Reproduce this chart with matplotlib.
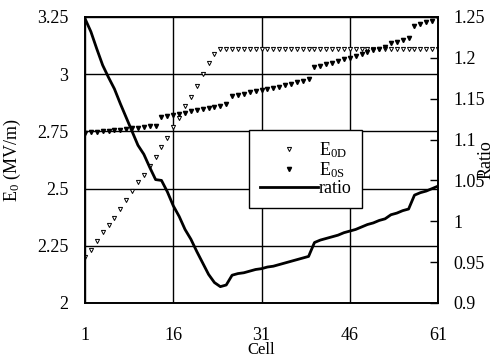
import matplotlib

matplotlib.use("Agg")
from matplotlib import pyplot as plt

plt.rcParams["font.family"] = ["Liberation Serif", "DejaVu Serif"]
plt.rcParams["mathtext.fontset"] = "custom"
plt.rcParams["mathtext.rm"] = "Liberation Serif"
plt.rcParams["mathtext.it"] = "Liberation Serif"

CELLS = list(range(1, 62))

E0D = [2.20, 2.23, 2.27, 2.31, 2.34, 2.37, 2.41, 2.45, 2.49, 2.53,
       2.56, 2.60, 2.64, 2.68, 2.72, 2.77, 2.81, 2.86, 2.90, 2.95,
       3.00, 3.05, 3.09] + [3.11] * 38

E0S = [2.745, 2.747, 2.749, 2.751, 2.753, 2.755, 2.757, 2.760, 2.763, 2.766,
       2.769, 2.772, 2.775, 2.815, 2.818, 2.822, 2.827, 2.832, 2.837, 2.842,
       2.847, 2.852, 2.857, 2.862, 2.868, 2.905, 2.910, 2.915, 2.920, 2.925,
       2.930, 2.935, 2.940, 2.946, 2.952, 2.958, 2.964, 2.970, 2.977, 3.030,
       3.037, 3.044, 3.051, 3.058, 3.065, 3.072, 3.080, 3.088, 3.096, 3.104,
       3.112, 3.120, 3.135, 3.142, 3.150, 3.156, 3.210, 3.218, 3.226, 3.234,
       3.245]

RATIO = [1.248, 1.232, 1.211, 1.191, 1.176, 1.162, 1.144, 1.127, 1.110, 1.093,
         1.082, 1.066, 1.051, 1.050, 1.036, 1.019, 1.006, 0.990, 0.978, 0.963,
         0.949, 0.935, 0.925, 0.920, 0.922, 0.934, 0.936, 0.937, 0.939, 0.941,
         0.942, 0.944, 0.945, 0.947, 0.949, 0.951, 0.953, 0.955, 0.957, 0.974,
         0.977, 0.979, 0.981, 0.983, 0.986, 0.988, 0.990, 0.993, 0.996, 0.998,
         1.001, 1.003, 1.008, 1.010, 1.013, 1.015, 1.032, 1.035, 1.037, 1.040,
         1.043]

X_TICKS = [1, 16, 31, 46, 61]
LEFT_TICKS = [2, 2.25, 2.5, 2.75, 3, 3.25]
LEFT_LABELS = ["2", "2.25", "2.5", "2.75", "3", "3.25"]
RIGHT_TICKS = [0.9, 0.95, 1.0, 1.05, 1.1, 1.15, 1.2, 1.25]
RIGHT_LABELS = ["0.9", "0.95", "1", "1.05", "1.1", "1.15", "1.2", "1.25"]

fig = plt.figure(figsize=(4.96, 3.57), dpi=100)
ax = fig.add_axes([0.1714, 0.1513, 0.7117, 0.8011])
ax2 = ax.twinx()

h1, = ax.plot(CELLS, E0D, linestyle="none", marker="v", markersize=3,
              markerfacecolor="white", markeredgecolor="black", markeredgewidth=0.7,
              label=r"E$_{\mathrm{0D}}$")
h2, = ax.plot(CELLS, E0S, linestyle="none", marker="v", markersize=3,
              color="black", label=r"E$_{\mathrm{0S}}$")
h3, = ax2.plot(CELLS, RATIO, color="black", linewidth=2, label="ratio")

ax.set_xlim(1, 61)
ax.set_ylim(2, 3.25)
ax2.set_ylim(0.9, 1.25)
ax.set_xticks(X_TICKS)
ax.set_yticks(LEFT_TICKS)
ax.set_yticklabels(LEFT_LABELS)
ax2.set_yticks(RIGHT_TICKS)
ax2.set_yticklabels(RIGHT_LABELS)

ax.grid(True, color="black", linewidth=1)
ax.tick_params(axis="x", length=0, pad=17, labelsize=13)
ax.tick_params(axis="y", length=0, pad=12, labelsize=13)
ax2.tick_params(axis="y", direction="in", length=6, width=1, pad=11, labelsize=13)

for spine in list(ax.spines.values()) + list(ax2.spines.values()):
    spine.set_linewidth(1.2)

ax.set_xlabel("Cell", fontsize=12)
ax.xaxis.set_label_coords(0.5, -0.138)
ax.set_ylabel(r"E$_0$ (MV/m)", fontsize=13)
ax.yaxis.set_label_coords(-0.175, 0.5)
ax2.set_ylabel("Ratio", fontsize=13)
ax2.yaxis.set_label_coords(1.112, 0.5)

leg = ax2.legend(handles=[h1, h2, h3], loc="upper left",
                 bbox_to_anchor=(0.465, 0.605), fontsize=13, frameon=True,
                 fancybox=False, framealpha=1, edgecolor="black",
                 handlelength=3.2, handletextpad=0.05, labelspacing=0.0,
                 borderpad=0.6, borderaxespad=0)
leg.get_frame().set_linewidth(1)

fig.savefig("out.png", dpi=100)
